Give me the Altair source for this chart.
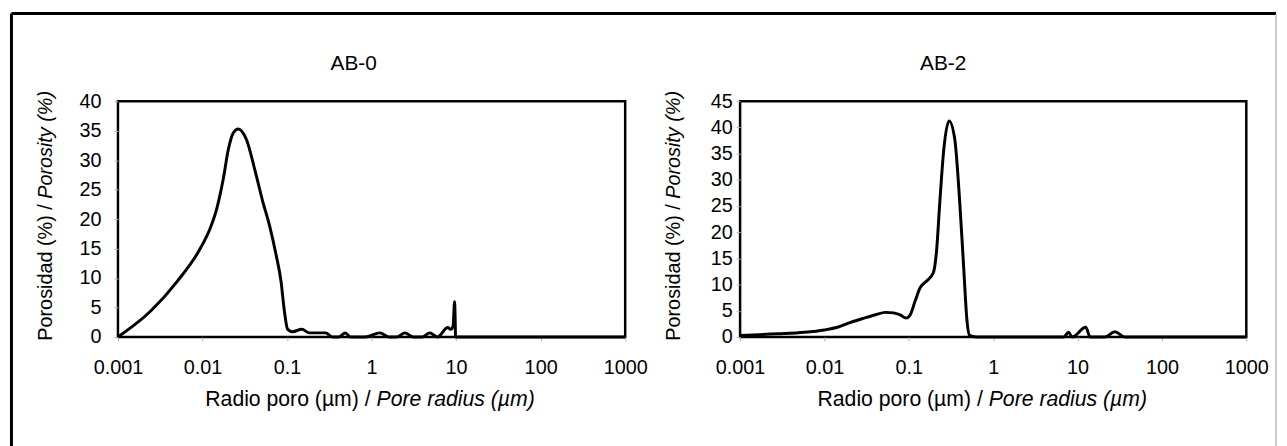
import altair as alt
import pandas as pd

# ---- data ----
ab0_radius = [0.001, 0.00244, 0.0050, 0.0094, 0.0123, 0.0147, 0.0176, 0.0202, 0.0231, 0.0264,
              0.0331, 0.0414, 0.0518, 0.0621, 0.0743, 0.085, 0.093, 0.1018, 0.116, 0.150,
              0.183, 0.286, 0.343, 0.41, 0.49, 0.56, 0.84, 1.26, 1.6, 2.0, 2.48, 3.1, 4.0,
              4.88, 6.0, 7.98, 8.6, 9.2, 9.6, 9.75, 9.85, 20, 100, 1000]
ab0_porosity = [0.0, 4.4, 9.4, 15.0, 18.4, 21.7, 26.8, 31.8, 34.6, 35.3,
                33.5, 28.5, 22.9, 18.9, 13.9, 9.4, 4.4, 1.3, 0.9, 1.3,
                0.7, 0.7, 0.0, 0.0, 0.7, 0.0, 0.0, 0.7, 0.0, 0.0, 0.7, 0.0, 0.0,
                0.7, 0.0, 1.6, 1.3, 1.8, 6.0, 3.0, 0.0, 0.0, 0.0, 0.0]

ab2_radius = [0.001, 0.00282, 0.0058, 0.00996, 0.01427, 0.0205, 0.0294, 0.0403, 0.0527, 0.066,
              0.079, 0.093, 0.104, 0.119, 0.136, 0.163, 0.195, 0.213, 0.233, 0.26,
              0.3, 0.35, 0.401, 0.447, 0.489, 0.525, 0.628, 3.0, 6.86, 7.83, 8.6,
              12.5, 14.1, 21.1, 27.7, 36.3, 100, 1000]
ab2_porosity = [0.3, 0.6, 0.9, 1.35, 1.85, 2.8, 3.6, 4.25, 4.7, 4.6,
                4.2, 3.6, 4.25, 6.9, 9.4, 10.7, 12.25, 16.4, 25.8, 35.9,
                41.25, 37.8, 25.8, 13.2, 3.1, 0.3, 0.0, 0.0, 0.0, 0.9, 0.0,
                1.85, 0.0, 0.0, 1.0, 0.0, 0.0, 0.0]

x_ticks = [0.001, 0.01, 0.1, 1, 10, 100, 1000]
ab0_y_ticks = [0, 5, 10, 15, 20, 25, 30, 35, 40]
ab2_y_ticks = [0, 5, 10, 15, 20, 25, 30, 35, 40, 45]

FONT = "Liberation Sans"
W, H = 512, 238


def one_text(text, x, y, size=20, italic=False, align="center", angle=0, baseline="alphabetic"):
    kw = dict(text=text, font=FONT, fontSize=size, color="black", align=align,
              baseline=baseline, angle=angle)
    if italic:
        kw["fontStyle"] = "italic"
    return alt.Chart(alt.Data(values=[{}])).mark_text(**kw).encode(
        x=alt.value(x), y=alt.value(y))


def panel(xs, ys, ymax, yticks, title, title_x, xt_end, yt_x, ylab_pad, w, extra=None):
    df = pd.DataFrame({"r": xs, "p": ys})
    line = alt.Chart(df).mark_line(color="black", strokeWidth=3, interpolate="monotone").encode(
        x=alt.X("r:Q",
                scale=alt.Scale(type="log", domain=[0.001, 1000], nice=False),
                axis=alt.Axis(values=x_ticks, format="~g", title=None, grid=False, domain=False,
                              labelFont=FONT, labelFontSize=20, labelColor="black",
                              tickColor="#b5b5b5", tickSize=4, labelPadding=17,
                              labelFlush=False, labelOverlap=False)),
        y=alt.Y("p:Q",
                scale=alt.Scale(domain=[0, ymax], nice=False),
                axis=alt.Axis(values=yticks, format="d", title=None, grid=False, domain=False,
                              labelFont=FONT, labelFontSize=20, labelColor="black",
                              tickColor="#b5b5b5", tickSize=4, labelPadding=ylab_pad,
                              labelOverlap=False)),
    )
    layers = [line,
              one_text(title, title_x, -32, size=21),
              one_text("Radio poro (µm) /", xt_end, 308, size=21.4, align="right"),
              one_text("Pore radius (µm)", xt_end + 6, 308, size=21.4, italic=True, align="left"),
              one_text("Porosidad (%) /", yt_x, 104, size=20, align="right", angle=270),
              one_text("Porosity (%)", yt_x, 98.5, size=20, italic=True, align="left", angle=270)]
    if extra:
        layers += extra
    return alt.layer(*layers).properties(width=w, height=H)


frame = [
    alt.Chart(alt.Data(values=[{}])).mark_rule(color="black", strokeWidth=3).encode(
        x=alt.value(-107.5), x2=alt.value(1169), y=alt.value(-88.5)),
    alt.Chart(alt.Data(values=[{}])).mark_rule(color="black", strokeWidth=3).encode(
        x=alt.value(-107.5), y=alt.value(-88.5), y2=alt.value(350)),
    alt.Chart(alt.Data(values=[{}])).mark_rule(color="#9a9a9a", strokeWidth=1).encode(
        x=alt.value(1169), y=alt.value(-88.5), y2=alt.value(350)),
]

left = panel(ab0_radius, ab0_porosity, 40, ab0_y_ticks, "AB-0", 238, 255, -67, 13, 512, frame)
right = panel(ab2_radius, ab2_porosity, 45, ab2_y_ticks, "AB-2", 205, 245, -61, 4, 511)

chart = alt.hconcat(left, right, spacing=116, bounds="flush").properties(
    padding=0, background="white"
).configure_view(stroke="black", strokeWidth=2.5)

chart.save("out.html", embed_options={"renderer": "svg", "actions": False})
